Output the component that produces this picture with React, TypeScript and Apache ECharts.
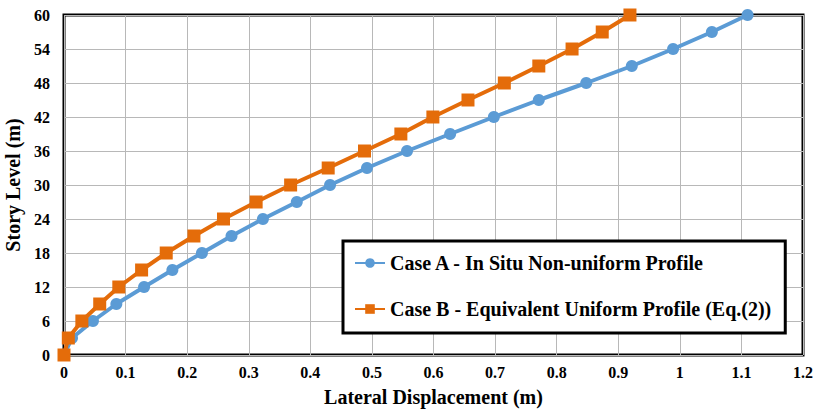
import React, { useEffect, useRef } from "react";
import * as echarts from "echarts";

const storyLevels = [0, 3, 6, 9, 12, 15, 18, 21, 24, 27, 30, 33, 36, 39, 42, 45, 48, 51, 54, 57, 60];
const caseA = [0, 0.013, 0.047, 0.085, 0.13, 0.176, 0.224, 0.272, 0.323, 0.378, 0.432, 0.492, 0.557, 0.627, 0.698, 0.771, 0.848, 0.922, 0.989, 1.052, 1.11];
const caseB = [0, 0.007, 0.029, 0.058, 0.089, 0.126, 0.166, 0.211, 0.259, 0.312, 0.368, 0.429, 0.488, 0.547, 0.599, 0.656, 0.715, 0.771, 0.825, 0.874, 0.919];
const seriesNames = ["Case A - In Situ Non-uniform Profile", "Case B - Equivalent Uniform Profile (Eq.(2))"];

const FONT = "Liberation Serif";

export default function App() {
  const ref = useRef<HTMLDivElement>(null);
  useEffect(() => {
    if (!ref.current) return;
    const chart = echarts.init(ref.current, undefined, { renderer: "svg" });
    const pairs = (xs: number[]) => xs.map((x, i) => [x, storyLevels[i]]);
    chart.setOption({
      animation: false,
      backgroundColor: "#ffffff",
      textStyle: { fontFamily: FONT },
      grid: {
        left: 64,
        top: 15,
        width: 739,
        height: 340,
        containLabel: false,
        outerBoundsMode: "none",
        show: true,
        borderColor: "#000",
        borderWidth: 3,
      },
      legend: {
        orient: "vertical",
        left: 343,
        top: 241,
        borderColor: "#000",
        borderWidth: 3,
        backgroundColor: "#fff",
        padding: [12, 14, 14, 11],
        itemGap: 26,
        itemWidth: 30,
        itemHeight: 12,
        textStyle: { fontFamily: FONT, fontWeight: "bold", fontSize: 20, color: "#000" },
        data: seriesNames,
      },
      xAxis: {
        type: "value",
        min: 0,
        max: 1.2,
        interval: 0.1,
        name: "Lateral Displacement (m)",
        nameLocation: "middle",
        nameGap: 32,
        nameTextStyle: { fontFamily: FONT, fontWeight: "bold", fontSize: 20, color: "#000" },
        axisLine: { show: false },
        axisTick: { show: false },
        axisLabel: { fontFamily: FONT, fontWeight: "bold", fontSize: 16, color: "#000", margin: 9 },
        splitLine: { show: true, lineStyle: { color: "#b8b8b8", width: 1 } },
      },
      yAxis: {
        type: "value",
        min: 0,
        max: 60,
        interval: 6,
        name: "Story Level (m)",
        nameLocation: "middle",
        nameGap: 35,
        nameTextStyle: { fontFamily: FONT, fontWeight: "bold", fontSize: 20, color: "#000" },
        axisLine: { show: false },
        axisTick: { show: false },
        axisLabel: { fontFamily: FONT, fontWeight: "bold", fontSize: 16, color: "#000", margin: 14 },
        splitLine: { show: true, lineStyle: { color: "#b8b8b8", width: 1 } },
      },
      series: [
        {
          name: seriesNames[0],
          type: "line",
          data: pairs(caseA),
          symbol: "circle",
          symbolSize: 12,
          lineStyle: { color: "#5b9bd5", width: 4 },
          itemStyle: { color: "#5b9bd5" },
          z: 2,
        },
        {
          name: seriesNames[1],
          type: "line",
          data: pairs(caseB),
          symbol: "rect",
          symbolSize: 13,
          lineStyle: { color: "#e46c0a", width: 4 },
          itemStyle: { color: "#e46c0a" },
          z: 3,
        },
      ],
    });
    return () => chart.dispose();
  }, []);
  return <div ref={ref} style={{ position: "fixed", left: 0, top: 0, width: 813, height: 409 }} />;
}
